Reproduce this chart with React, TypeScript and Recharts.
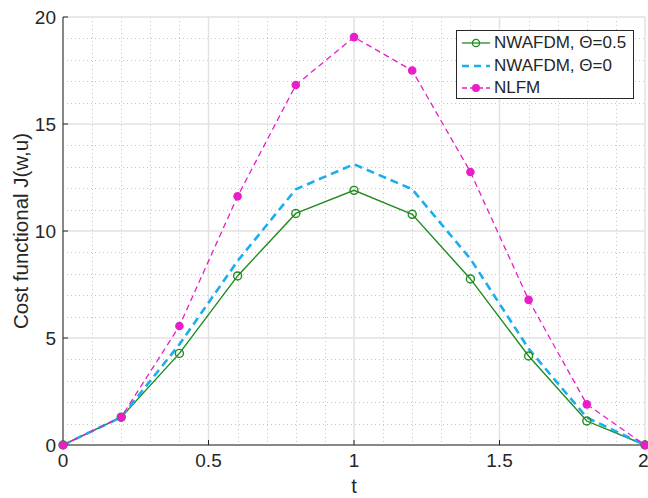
import { LineChart, Line, XAxis, YAxis, CartesianGrid } from "recharts";

const T = [0, 0.2, 0.4, 0.6, 0.8, 1.0, 1.2, 1.4, 1.6, 1.8, 2.0];
const THETA_HALF = [0, 1.3, 4.28, 7.9, 10.82, 11.9, 10.78, 7.76, 4.16, 1.12, 0];
const THETA_ZERO = [0, 1.3, 4.7, 8.6, 11.95, 13.12, 11.95, 8.7, 4.5, 1.28, 0];
const NLFM = [0, 1.3, 5.56, 11.62, 16.82, 19.06, 17.5, 12.76, 6.78, 1.9, 0];

const X_TICKS = [0, 0.5, 1, 1.5, 2];
const Y_TICKS = [0, 5, 10, 15, 20];
const X_MINOR = [0.1, 0.2, 0.3, 0.4, 0.6, 0.7, 0.8, 0.9, 1.1, 1.2, 1.3, 1.4, 1.6, 1.7, 1.8, 1.9];
const Y_MINOR = [1, 2, 3, 4, 6, 7, 8, 9, 11, 12, 13, 14, 16, 17, 18, 19];
const X_DOMAIN = [0, 2];
const Y_DOMAIN = [0, 20];

const GREEN = "#1e8c1e";
const BLUE = "#1aaeee";
const MAGENTA = "#e81ec8";
const AXIS = "#262626";
const FONT = "'Liberation Sans', Arial, sans-serif";

const data = T.map((t, i) => ({
  t,
  half: THETA_HALF[i],
  zero: THETA_ZERO[i],
  nlfm: NLFM[i],
}));

const legendItems = [
  { name: "NWAFDM, \u0398=0.5", color: GREEN, dash: undefined, marker: "open" },
  { name: "NWAFDM, \u0398=0", color: BLUE, dash: "7 5", marker: "none" },
  { name: "NLFM", color: MAGENTA, dash: "5 3", marker: "filled" },
];

// minor grid: map the minor tick values onto the plot area (snapped so the dots stay crisp)
const minorX = ({ offset }: any) =>
  X_MINOR.map((v) => Math.round(offset.left + ((v - X_DOMAIN[0]) / (X_DOMAIN[1] - X_DOMAIN[0])) * offset.width) + 0.5);
const minorY = ({ offset }: any) =>
  Y_MINOR.map((v) => Math.round(offset.top + (1 - (v - Y_DOMAIN[0]) / (Y_DOMAIN[1] - Y_DOMAIN[0])) * offset.height) + 0.5);

function LegendBox() {
  return (
    <div
      style={{
        position: "absolute",
        left: 456,
        top: 30,
        width: 178,
        height: 69,
        border: `1px solid ${AXIS}`,
        background: "#fff",
        fontFamily: FONT,
        fontSize: 17,
        color: AXIS,
        boxSizing: "border-box",
      }}
    >
      {legendItems.map((it, i) => (
        <div
          key={it.name}
          style={{ position: "absolute", left: 4, top: 1 + i * 22.5, height: 22, display: "flex", alignItems: "center" }}
        >
          <svg width={30} height={12}>
            <line x1={1} y1={6} x2={29} y2={6} stroke={it.color} strokeWidth={it.marker === "none" ? 2.5 : 1.3} strokeDasharray={it.dash} />
            {it.marker === "open" && <circle cx={15} cy={6} r={3.6} fill="none" stroke={it.color} strokeWidth={1.3} />}
            {it.marker === "filled" && <circle cx={15} cy={6} r={4} fill={it.color} />}
          </svg>
          <span style={{ marginLeft: 3, whiteSpace: "nowrap" }}>{it.name}</span>
        </div>
      ))}
    </div>
  );
}

const OpenDot = (props: any) => {
  const { cx, cy } = props;
  return <circle cx={cx} cy={cy} r={4} fill="none" stroke={GREEN} strokeWidth={1.4} />;
};

const FilledDot = (props: any) => {
  const { cx, cy } = props;
  return <circle cx={cx} cy={cy} r={4.3} fill={MAGENTA} />;
};

export default function App() {
  const tick = { fill: AXIS, fontSize: 19, fontFamily: FONT };
  return (
    <div style={{ position: "absolute", left: 0, top: 0, width: 648, height: 498, background: "#fff" }}>
      <LineChart width={648} height={498} data={data} margin={{ top: 17, right: 3, bottom: 0, left: 0 }}>
        <CartesianGrid
          stroke="#c4c4c4"
          strokeWidth={1}
          strokeDasharray="1 3"
          verticalCoordinatesGenerator={minorX}
          horizontalCoordinatesGenerator={minorY}
        />
        <CartesianGrid stroke="#e2e2e2" strokeWidth={1.5} />
        <XAxis
          dataKey="t"
          type="number"
          domain={X_DOMAIN}
          ticks={X_TICKS}
          height={53}
          stroke={AXIS}
          tick={tick}
          tickSize={-5}
          tickMargin={14}
          tickFormatter={(v) => String(v)}
          label={{ value: "t", position: "insideBottom", offset: 5, fill: AXIS, fontSize: 20, fontFamily: FONT }}
        />
        <XAxis xAxisId="top" orientation="top" type="number" domain={X_DOMAIN} ticks={X_TICKS} height={0} stroke={AXIS} tick={false} tickSize={-5} />
        <YAxis
          type="number"
          domain={Y_DOMAIN}
          ticks={Y_TICKS}
          width={63}
          stroke={AXIS}
          tick={tick}
          tickSize={-5}
          tickMargin={12}
          label={{ value: "Cost functional J(w,u)", angle: -90, position: "insideLeft", offset: 21, style: { textAnchor: "middle" }, fill: AXIS, fontSize: 20.5, fontFamily: FONT }}
        />
        <YAxis yAxisId="right" orientation="right" type="number" domain={Y_DOMAIN} ticks={Y_TICKS} width={0} stroke={AXIS} tick={false} tickSize={-5} />
        <Line dataKey="half" stroke={GREEN} strokeWidth={1.4} dot={<OpenDot />} activeDot={false} isAnimationActive={false} />
        <Line dataKey="zero" stroke={BLUE} strokeWidth={2.6} strokeDasharray="8 5" dot={false} activeDot={false} isAnimationActive={false} />
        <Line dataKey="nlfm" stroke={MAGENTA} strokeWidth={1.3} strokeDasharray="6 4" dot={<FilledDot />} activeDot={false} isAnimationActive={false} />
      </LineChart>
      <LegendBox />
    </div>
  );
}
